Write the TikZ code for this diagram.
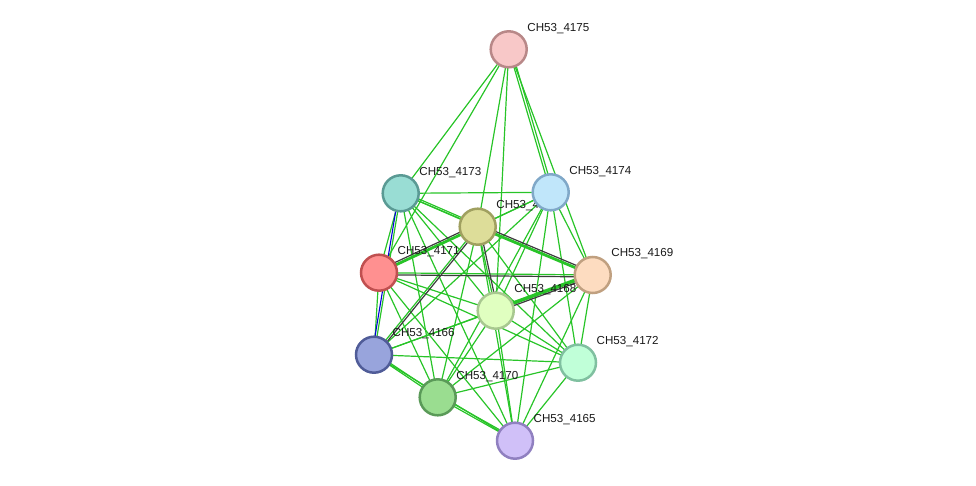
\documentclass[tikz,border=0pt]{standalone}
\usepackage{fontspec}
\setmainfont{Liberation Sans}
\usetikzlibrary{calc}
\pgfdeclarelayer{edges}
\pgfdeclarelayer{labels}
\pgfsetlayers{edges,labels,main}
\definecolor{eg}{RGB}{40,196,40}
\definecolor{eg2}{RGB}{60,60,60}
\tikzset{
  prot/.style={circle, minimum size=36pt, inner sep=0pt, line width=2.5pt},
  edge/.style={draw=eg, line width=1.2pt},
  thickedge/.style={draw=eg, line width=2.8pt},
  darkedge/.style={draw=eg2, line width=1.2pt},
  blueedge/.style={draw=blue!85!black, line width=1.1pt},
  lab/.style={anchor=west, font=\fontsize{11.6}{13}\selectfont, inner sep=0pt, text=black!90}
}
\begin{document}
\begin{tikzpicture}[x=1pt,y=-1pt]
\useasboundingbox (0,0) rectangle (976,486);
% nodes
\node[prot, fill={rgb,255:red,248;green,200;blue,200}, draw={rgb,255:red,184;green,136;blue,136}] (a) at (508.7,49.3) {};
\node[prot, fill={rgb,255:red,153;green,221;blue,212}, draw={rgb,255:red,90;green,154;blue,148}] (b) at (400.7,193.3) {};
\node[prot, fill={rgb,255:red,192;green,230;blue,250}, draw={rgb,255:red,128;green,168;blue,200}] (c) at (550.7,192.3) {};
\node[prot, fill={rgb,255:red,221;green,221;blue,153}, draw={rgb,255:red,160;green,160;blue,96}] (d) at (477.7,226.7) {};
\node[prot, fill={rgb,255:red,255;green,144;blue,144}, draw={rgb,255:red,192;green,80;blue,80}] (e) at (379,272.7) {};
\node[prot, fill={rgb,255:red,253;green,220;blue,192}, draw={rgb,255:red,192;green,160;blue,128}] (f) at (592.7,275) {};
\node[prot, fill={rgb,255:red,224;green,255;blue,192}, draw={rgb,255:red,168;green,200;blue,144}] (g) at (495.7,310.7) {};
\node[prot, fill={rgb,255:red,152;green,164;blue,220}, draw={rgb,255:red,80;green,92;blue,152}] (h) at (374,354.7) {};
\node[prot, fill={rgb,255:red,192;green,255;blue,216}, draw={rgb,255:red,128;green,192;blue,160}] (i) at (578,362.7) {};
\node[prot, fill={rgb,255:red,154;green,221;blue,144}, draw={rgb,255:red,90;green,154;blue,88}] (j) at (437.7,397.3) {};
\node[prot, fill={rgb,255:red,208;green,192;blue,248}, draw={rgb,255:red,144;green,128;blue,192}] (k) at (515,440.7) {};
% labels
\begin{pgfonlayer}{labels}
\foreach \n/\t in {a/CH53\_4175,b/CH53\_4173,c/CH53\_4174,d/CH53\_4167,e/CH53\_4171,f/CH53\_4169,g/CH53\_4168,h/CH53\_4166,i/CH53\_4172,j/CH53\_4170,k/CH53\_4165}
  \node[lab] (l\n) at ($(\n.center)+(18.5,-21)$) {\t};
\end{pgfonlayer}
% edges
\begin{pgfonlayer}{edges}
\foreach \u/\v in {b/c,b/d,b/e,b/f,b/g,b/h,b/i,b/j,b/k,
  c/d,c/e,c/f,c/g,c/h,c/i,c/j,c/k,
  d/e,d/f,d/g,d/h,d/i,d/j,d/k,
  e/f,e/g,e/h,e/i,e/j,e/k,
  f/g,f/h,f/i,f/j,f/k,
  g/h,g/i,g/j,g/k,
  h/i,h/j,h/k,
  i/j,i/k,
  j/k,
  a/b,a/c,a/d,a/e,a/f,a/g}
  \draw[edge] (\u.center) -- (\v.center);
% thicker / multiple evidence edges
\draw[thickedge] (d.center) -- (e.center);
\draw[thickedge] (d.center) -- (f.center);
\draw[thickedge] ($(g.center)!1.5pt!90:(f.center)$) -- ($(f.center)!1.5pt!-90:(g.center)$);
\draw[darkedge] ($(d.center)!2.5pt!-90:(e.center)$) -- ($(e.center)!2.5pt!90:(d.center)$);
\draw[darkedge] ($(d.center)!2.5pt!90:(f.center)$) -- ($(f.center)!2.5pt!-90:(d.center)$);
\draw[darkedge] ($(e.center)!2pt!-90:(f.center)$) -- ($(f.center)!2pt!90:(e.center)$);
\draw[darkedge] ($(d.center)!2pt!90:(g.center)$) -- ($(g.center)!2pt!-90:(d.center)$);
\draw[darkedge] ($(g.center)!1.5pt!-90:(f.center)$) -- ($(f.center)!1.5pt!90:(g.center)$);
\draw[darkedge] ($(h.center)!2pt!-90:(d.center)$) -- ($(d.center)!2pt!90:(h.center)$);
\draw[blueedge] ($(b.center)!2pt!-90:(h.center)$) -- ($(h.center)!2pt!90:(b.center)$);
\draw[edge] ($(h.center)!2pt!90:(j.center)$) -- ($(j.center)!2pt!-90:(h.center)$);
\draw[edge] ($(j.center)!2pt!90:(k.center)$) -- ($(k.center)!2pt!-90:(j.center)$);
\draw[edge] ($(b.center)!2pt!90:(d.center)$) -- ($(d.center)!2pt!-90:(b.center)$);
\draw[edge] ($(a.center)!2.5pt!90:(c.center)$) -- ($(c.center)!2.5pt!-90:(a.center)$);
\end{pgfonlayer}
\end{tikzpicture}
\end{document}
